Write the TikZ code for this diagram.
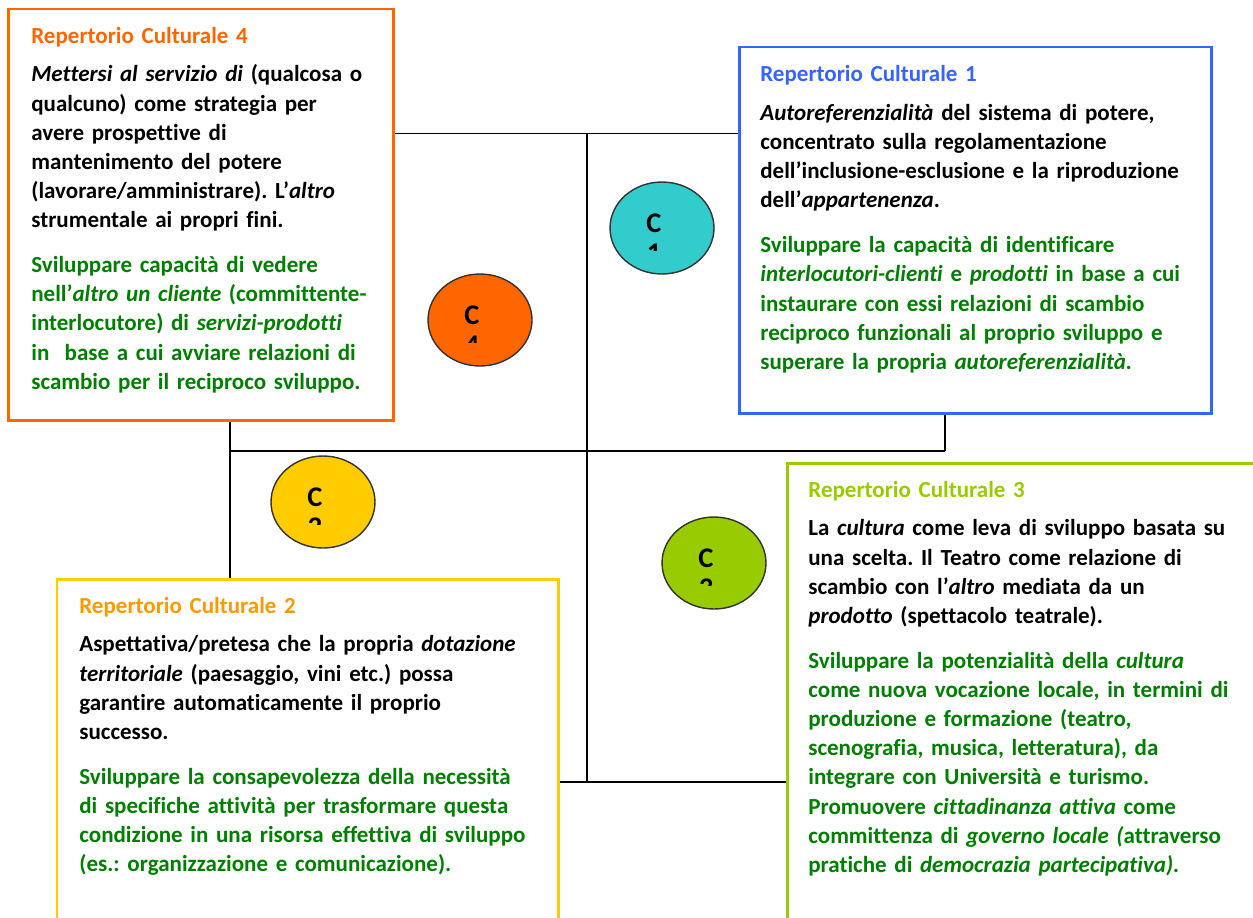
\documentclass[tikz,border=0pt]{standalone}
\usepackage{fontspec}
\setmainfont{Carlito}[Ligatures={NoCommon}, BoldFont={Carlito Bold}, BoldItalicFont={Carlito Bold Italic}]
\usetikzlibrary{shapes.geometric,fit,backgrounds}
\definecolor{rcorange}{HTML}{FF6600}
\definecolor{rcblue}{HTML}{3366FF}
\definecolor{rclime}{HTML}{99CC00}
\definecolor{rcyellow}{HTML}{FFCC00}
\definecolor{rcamber}{HTML}{FF9900}
\definecolor{rcteal}{HTML}{33CCCC}
\definecolor{rcgreen}{HTML}{008000}
\definecolor{rcline}{HTML}{333333}
\frenchspacing

\begin{document}
\begin{tikzpicture}[x=0.02cm, y=-0.02cm,
  rcbox/.style = {draw, line width=1.7pt, fill=white, inner sep=0pt},
  rctext/.style = {anchor=north west, inner sep=0pt, text width=10cm, align=left,
    font=\bfseries\fontsize{13.1}{16.6}\selectfont},
  circ/.style = {ellipse, draw=rcline, line width=0.8pt, minimum width=2.08cm,
    minimum height=1.84cm, inner sep=0pt},
  ctext/.style = {anchor=base, inner sep=0pt, font=\bfseries\fontsize{16.2}{17}\selectfont},
  cnum/.style = {path picture={
    \node[ctext] (cC#1) at ([shift={(-8,4)}]path picture bounding box.center) {C};
    \clip ([shift={(-60,-60)}]path picture bounding box.center) rectangle
      ([shift={(60,22)}]path picture bounding box.center);
    \node[ctext] (cN#1) at ([shift={(-8,34)}]path picture bounding box.center) {#1};}},
  grid/.style = {line width=1.1pt}]

\useasboundingbox (0,0) rectangle (1253,917);
\clip (0,0) rectangle (1253,917);

% frames of the four repertoires
\node[rcbox, draw=rcorange, fit={(8.5,9) (393.5,420.5)}] (rc4) {};
\node[rcbox, draw=rcblue, fit={(739,47) (1211.5,413)}] (rc1) {};
\node[rcbox, draw=rcyellow, fit={(57,579) (558,945)}] (rc2) {};
\node[rcbox, draw=rclime, fit={(787,463) (1280,945)}] (rc3) {};

% cross behind the frames
\coordinate (top) at (587,133.5);
\coordinate (low) at (587,782);
\coordinate (midL) at (230,451);
\coordinate (midR) at (945,451);

\begin{scope}[on background layer]
\draw[grid] (rc4.east |- top) -- (rc1.west |- top);
\draw[grid] (top) -- (low);
\draw[grid] (midL) -- (midR);
\draw[grid] (rc4.south -| midL) -- (rc2.north -| midL);
\draw[grid] (rc1.south -| midR) -- (midR);
\draw[grid] (rc2.east |- low) -- (rc3.west |- low);
\end{scope}

% texts
\node[rctext] (t4) at (31,26.5) {{\color{rcorange}Repertorio Culturale 4}\\[5.5pt]
\textit{Mettersi al servizio di} (qualcosa o\\
qualcuno) come strategia per\\
avere prospettive di\\
mantenimento del potere\\
(lavorare/amministrare). L’\textit{altro}\\
strumentale ai propri fini.\\[9pt]
\color{rcgreen}Sviluppare capacità di vedere\\
nell’\textit{altro un cliente} (committente-\\
interlocutore) di \textit{servizi-prodotti}\\
in~ base a cui avviare relazioni di\\
scambio per il reciproco sviluppo.};

\node[rctext] (t1) at (760,65) {{\color{rcblue}Repertorio Culturale 1}\\[5.5pt]
\textit{Autoreferenzialità} del sistema di potere,\\
concentrato sulla regolamentazione\\
dell’inclusione-esclusione e la riproduzione\\
dell’\textit{appartenenza}.\\[9pt]
\color{rcgreen}Sviluppare la capacità di identificare\\
\textit{interlocutori-clienti} e \textit{prodotti} in base a cui\\
instaurare con essi relazioni di scambio\\
reciproco funzionali al proprio sviluppo e\\
superare la propria \textit{autoreferenzialità.}};

\node[rctext] (t3) at (808,480.5) {{\color{rclime}Repertorio Culturale 3}\\[5.5pt]
La \textit{cultura} come leva di sviluppo basata su\\
una scelta. Il Teatro come relazione di\\
scambio con l’\textit{altro} mediata da un\\
\textit{prodotto} (spettacolo teatrale).\\[9pt]
\color{rcgreen}Sviluppare la potenzialità della \textit{cultura}\\
come nuova vocazione locale, in termini di\\
produzione e formazione (teatro,\\
scenografia, musica, letteratura), da\\
integrare con Università e turismo.\\
Promuovere \textit{cittadinanza attiva} come\\
committenza di \textit{governo locale (}attraverso\\
pratiche di \textit{democrazia partecipativa).}};

\node[rctext] (t2) at (79,596.5) {{\color{rcamber}Repertorio Culturale 2}\\[5.5pt]
Aspettativa/pretesa che la propria \textit{dotazione}\\
\textit{territoriale} (paesaggio, vini etc.) possa\\
garantire automaticamente il proprio\\
successo.\\[9pt]
\color{rcgreen}Sviluppare la consapevolezza della necessità\\
di specifiche attività per trasformare questa\\
condizione in una risorsa effettiva di sviluppo\\
(es.: organizzazione e comunicazione).};

% the four circles
\node[circ, fill=rcteal, cnum=1] (c1) at (662,228) {};
\node[circ, fill=rcorange, cnum=4] (c4) at (480,320) {};
\node[circ, fill=rcyellow, cnum=2] (c2) at (323,502) {};
\node[circ, fill=rclime, cnum=3] (c3) at (714,563) {};

\end{tikzpicture}
\end{document}
